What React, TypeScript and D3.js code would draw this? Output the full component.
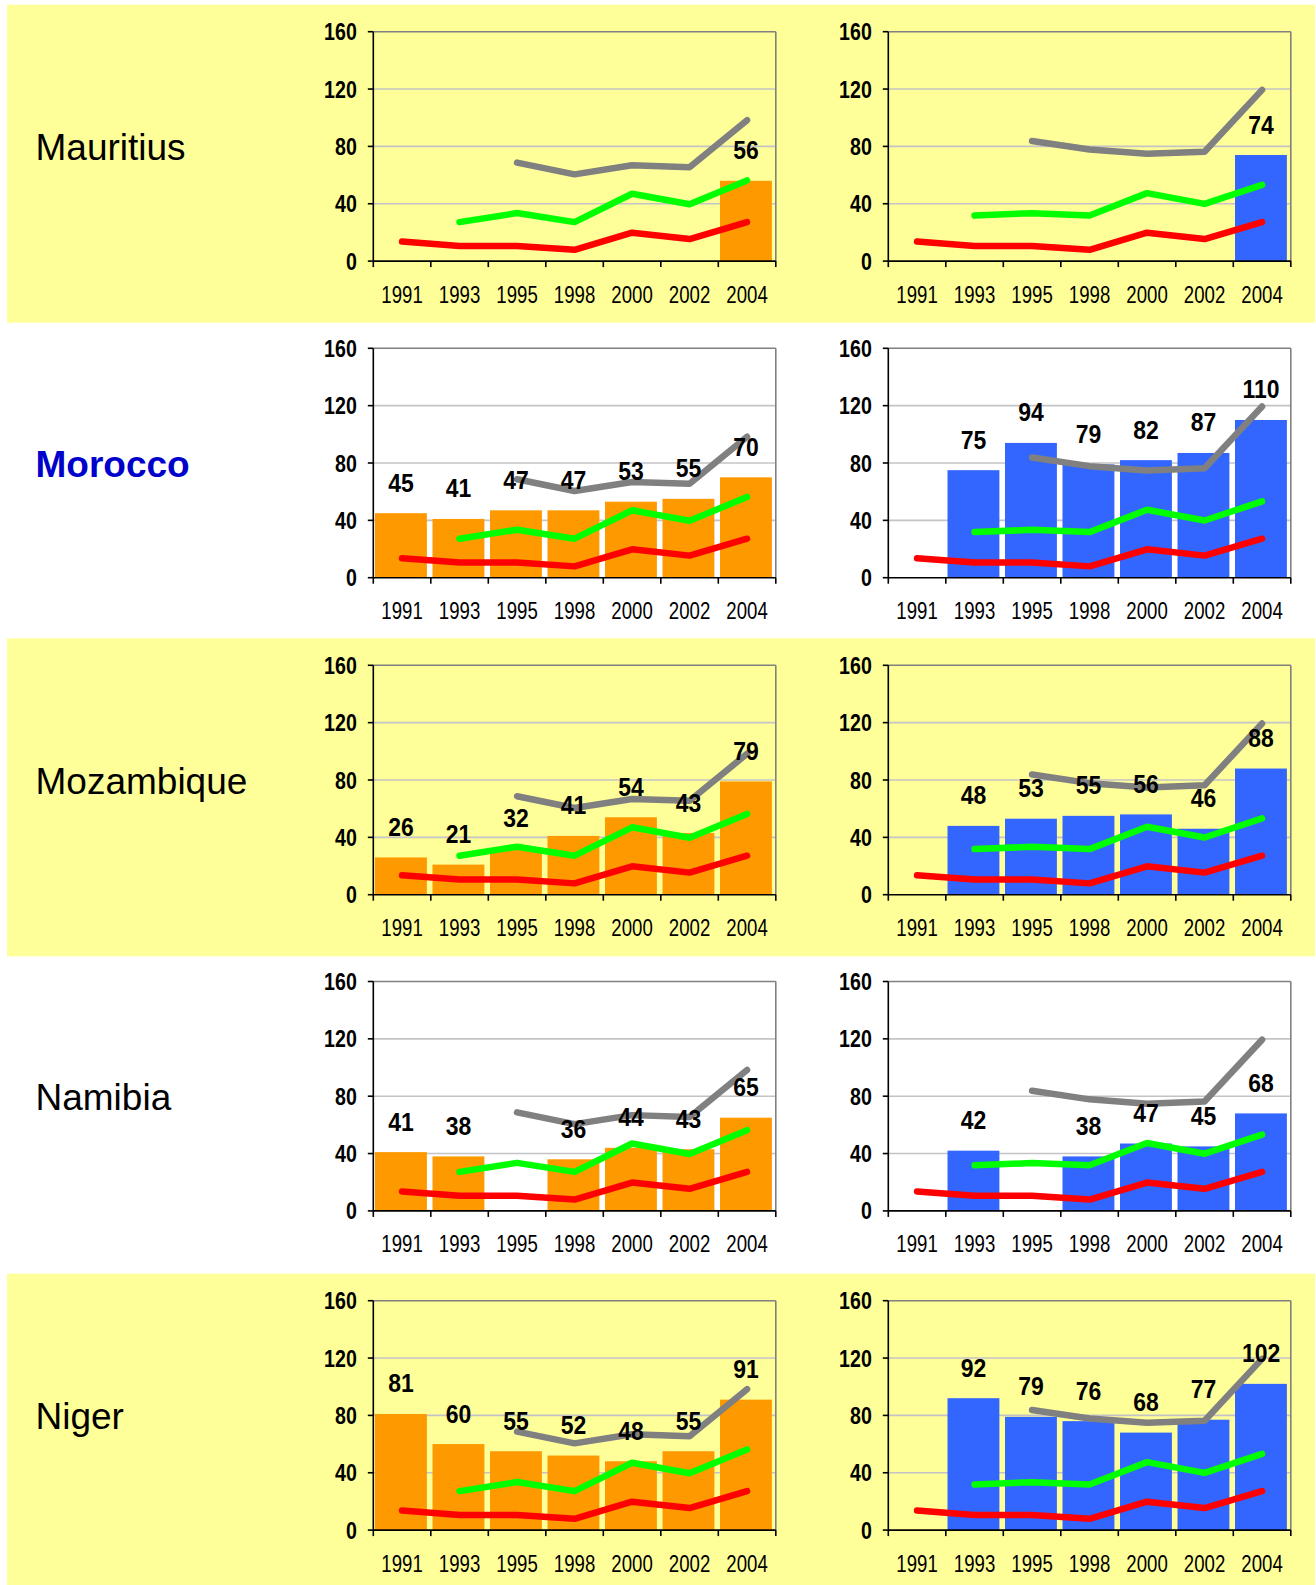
import React from "react";
import * as d3 from "d3";

const YEARS = ["1991", "1993", "1995", "1998", "2000", "2002", "2004"];
const COUNTRIES = ["Mauritius", "Morocco", "Mozambique", "Namibia", "Niger"];
const HIGHLIGHT = [false, true, false, false, false];
const Y_TICKS = [0, 40, 80, 120, 160];

type V = number | null;
const LEFT_BARS: V[][] = [
  [null, null, null, null, null, null, 56],
  [45, 41, 47, 47, 53, 55, 70],
  [26, 21, 32, 41, 54, 43, 79],
  [41, 38, null, 36, 44, 43, 65],
  [81, 60, 55, 52, 48, 55, 91],
];
const RIGHT_BARS: V[][] = [
  [null, null, null, null, null, null, 74],
  [null, 75, 94, 79, 82, 87, 110],
  [null, 48, 53, 55, 56, 46, 88],
  [null, 42, null, 38, 47, 45, 68],
  [null, 92, 79, 76, 68, 77, 102],
];
const RED_LINE: V[] = [13.6, 10.6, 10.6, 7.9, 19.8, 15.4, 27.2];
const GREEN_LEFT: V[] = [null, 27.2, 33.5, 27.2, 47.0, 39.7, 56.3];
const GRAY_LEFT: V[] = [null, null, 68.7, 60.5, 66.8, 65.5, 98.3];
const GREEN_RIGHT: V[] = [null, 31.8, 33.4, 31.8, 47.4, 39.9, 53.2];
const GRAY_RIGHT: V[] = [null, null, 83.8, 77.8, 74.8, 76.3, 119.4];

const W = 1316;
const H = 1585;
const ROW_TOPS = [31.7, 348.3, 665.3, 981.5, 1300.7];
const PLOT_H = 229.4;
const LEFT_X = 373.3;
const RIGHT_X = 888.3;
const PLOT_W = 402.5;
const YELLOW = "#FFFF99";
const ORANGE = "#FF9900";
const BLUE = "#3366FF";
const FONT = "'Liberation Sans', Arial, sans-serif";

const x = d3.scaleBand<string>().domain(YEARS).range([0, PLOT_W]).padding(0);
const y = d3.scaleLinear().domain([0, 160]).range([PLOT_H, 0]);

function Panel({ tx, ty, bars, color, green, gray }: { tx: number; ty: number; bars: V[]; color: string; green: V[]; gray: V[] }) {
  const bw = x.bandwidth();
  const line = d3
    .line<V>()
    .defined((d) => d != null)
    .x((_, i) => (x(YEARS[i]) as number) + bw / 2)
    .y((d) => y(d as number));
  return (
    <g transform={`translate(${tx},${ty})`}>
      {Y_TICKS.filter((t) => t > 0 && t < 160).map((t) => (
        <line key={t} x1={0} x2={PLOT_W} y1={y(t)} y2={y(t)} stroke="#C4C4C8" strokeWidth={1.6} />
      ))}
      <line x1={0} x2={PLOT_W} y1={0} y2={0} stroke="#808080" strokeWidth={1.6} />
      <line x1={PLOT_W} x2={PLOT_W} y1={0} y2={PLOT_H} stroke="#808080" strokeWidth={1.6} />
      {bars.map((v, i) =>
        v == null ? null : (
          <rect key={i} x={(x(YEARS[i]) as number) + 1.7} y={y(v)} width={bw - 5.6} height={PLOT_H - y(v)} fill={color} />
        )
      )}
      {[
        { d: RED_LINE, c: "#FF0000" },
        { d: green, c: "#00FF00" },
        { d: gray, c: "#808080" },
      ].map((s, k) => (
        <path key={k} d={line(s.d) || ""} fill="none" stroke={s.c} strokeWidth={6.5} strokeLinecap="round" strokeLinejoin="round" />
      ))}
      {bars.map((v, i) =>
        v == null ? null : (
          <text
            key={i}
            transform={`translate(${(x(YEARS[i]) as number) + bw / 2 - 1},${y(v) - 21.5}) scale(0.9,1)`}
            textAnchor="middle"
            fontFamily={FONT}
            fontWeight="bold"
            fontSize={25.5}
            fill="#000"
          >
            {v}
          </text>
        )
      )}
      <line x1={0} x2={0} y1={0} y2={PLOT_H} stroke="#000" strokeWidth={1.6} />
      <line x1={0} x2={PLOT_W} y1={PLOT_H} y2={PLOT_H} stroke="#000" strokeWidth={1.6} />
      {Y_TICKS.map((t) => (
        <g key={t}>
          <line x1={-5.5} x2={0} y1={y(t)} y2={y(t)} stroke="#000" strokeWidth={1.6} />
          <text
            transform={`translate(${-16.5},${y(t) + 8.5}) scale(0.8,1)`}
            textAnchor="end"
            fontFamily={FONT}
            fontWeight="bold"
            fontSize={24.5}
            fill="#000"
          >
            {t}
          </text>
        </g>
      ))}
      {YEARS.concat([""]).map((yr, i) => {
        const xx = i < YEARS.length ? (x(yr) as number) : PLOT_W;
        return <line key={i} x1={xx} x2={xx} y1={PLOT_H} y2={PLOT_H + 6} stroke="#000" strokeWidth={1.6} />;
      })}
      {YEARS.map((yr) => (
        <text
          key={yr}
          transform={`translate(${(x(yr) as number) + bw / 2},${PLOT_H + 41.5}) scale(0.76,1)`}
          textAnchor="middle"
          fontFamily={FONT}
          fontSize={24.5}
          fill="#000"
        >
          {yr}
        </text>
      ))}
    </g>
  );
}

export default function App() {
  return (
    <svg width={W} height={H} style={{ position: "absolute", left: 0, top: 0, background: "#fff" }}>
      {COUNTRIES.map((c, r) => {
        const top = ROW_TOPS[r];
        const bandTop = top - 27;
        const bandBottom = r === COUNTRIES.length - 1 ? H : bandTop + 318;
        return (
          <g key={c}>
            {r % 2 === 0 && <rect x={7} y={bandTop} width={W - 7 - 1} height={bandBottom - bandTop} fill={YELLOW} />}
            <text
              x={35.5}
              y={top + PLOT_H / 2 + 14}
              fontFamily={FONT}
              fontSize={37}
              fontWeight={HIGHLIGHT[r] ? "bold" : "normal"}
              fill={HIGHLIGHT[r] ? "#0000CC" : "#000"}
            >
              {c}
            </text>
            <Panel tx={LEFT_X} ty={top} bars={LEFT_BARS[r]} color={ORANGE} green={GREEN_LEFT} gray={GRAY_LEFT} />
            <Panel tx={RIGHT_X} ty={top} bars={RIGHT_BARS[r]} color={BLUE} green={GREEN_RIGHT} gray={GRAY_RIGHT} />
          </g>
        );
      })}
    </svg>
  );
}
